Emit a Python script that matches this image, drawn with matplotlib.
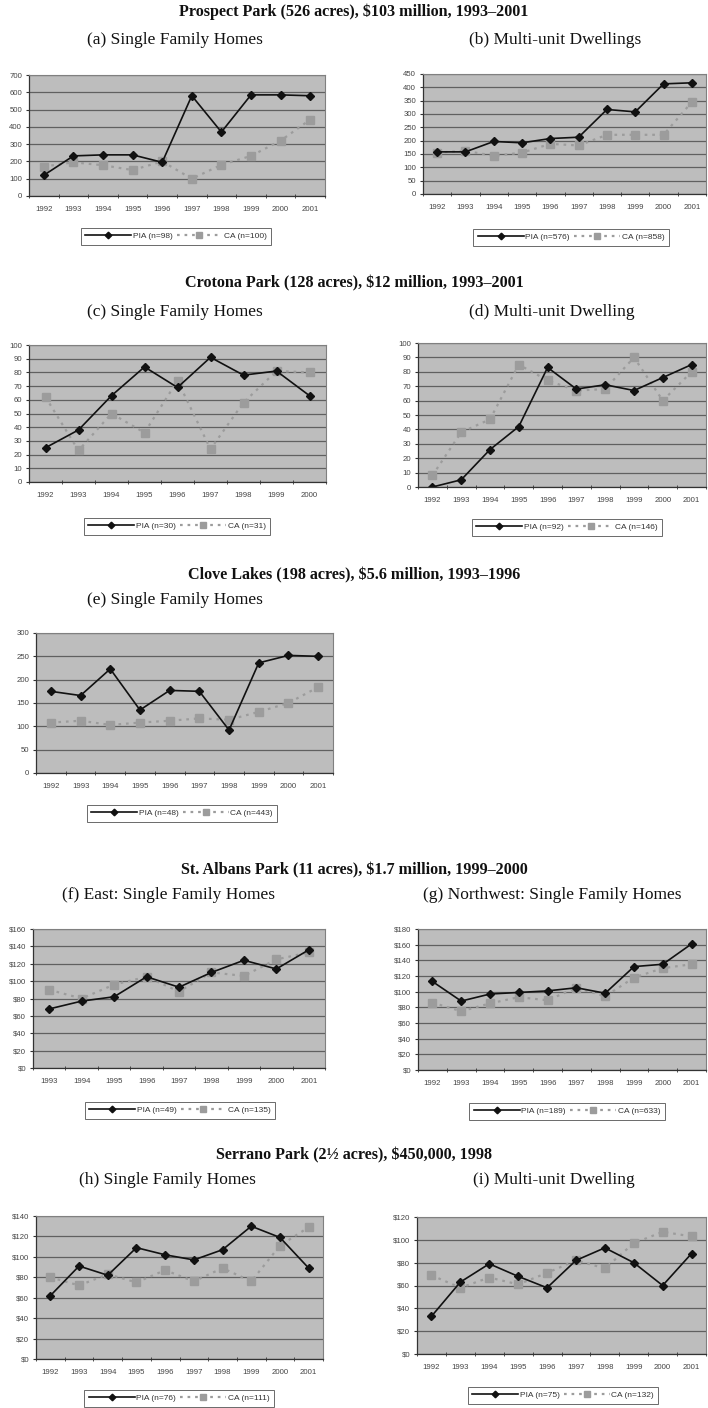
import numpy as np
import matplotlib.pyplot as plt

W, H = 708, 1408

# category labels
years_92_01 = ['1992', '1993', '1994', '1995', '1996', '1997', '1998', '1999', '2000', '2001']
years_92_00 = ['1992', '1993', '1994', '1995', '1996', '1997', '1998', '1999', '2000']
years_93_01 = ['1993', '1994', '1995', '1996', '1997', '1998', '1999', '2000', '2001']

# (a) Prospect Park, single family
prospect_sf_pia = [120, 232, 238, 238, 195, 580, 370, 585, 585, 580]
prospect_sf_ca = [170, 195, 178, 150, 200, 100, 180, 232, 320, 442]
# (b) Prospect Park, multi-unit
prospect_mu_pia = [158, 158, 197, 192, 208, 213, 317, 308, 413, 417]
prospect_mu_ca = [155, 162, 143, 155, 188, 182, 222, 222, 222, 345]
# (c) Crotona Park, single family
crotona_sf_pia = [25, 38, 63, 84, 69, 91, 78, 81, 63]
crotona_sf_ca = [62, 23, 50, 36, 74, 24, 58, 81, 80]
# (d) Crotona Park, multi-unit
crotona_mu_pia = [0, 5, 26, 42, 83, 68, 71, 67, 76, 85]
crotona_mu_ca = [8, 38, 47, 85, 74, 67, 68, 90, 60, 80]
# (e) Clove Lakes, single family
clove_sf_pia = [175, 166, 223, 135, 177, 175, 92, 236, 252, 250]
clove_sf_ca = [108, 112, 103, 108, 112, 117, 114, 131, 150, 184]
# (f) St. Albans east
albans_e_pia = [68, 77, 82, 105, 93, 110, 124, 114, 136]
albans_e_ca = [90, 80, 96, 105, 88, 110, 106, 125, 133]
# (g) St. Albans northwest
albans_nw_pia = [113, 88, 97, 99, 101, 105, 98, 132, 135, 161]
albans_nw_ca = [86, 75, 85, 93, 89, 105, 94, 118, 130, 135]
# (h) Serrano Park, single family
serrano_sf_pia = [62, 91, 82, 109, 102, 97, 107, 130, 119, 89]
serrano_sf_ca = [80, 72, 83, 75, 87, 76, 89, 76, 111, 129]
# (i) Serrano Park, multi-unit
serrano_mu_pia = [33, 63, 79, 68, 58, 82, 93, 80, 60, 88]
serrano_mu_ca = [69, 58, 67, 61, 71, 82, 75, 97, 107, 103]

serif = ['Liberation Serif', 'DejaVu Serif']
sans = ['Liberation Sans', 'DejaVu Sans']


def box(l, t, r, b):
    return [l / W, 1 - b / H, (r - l) / W, (b - t) / H]


def draw_panel(fig, rect, years, pia, ca, ymax, ystep, dollars, pia_lbl, ca_lbl, leg_xy):
    ax = fig.add_axes(box(*rect))
    x = np.arange(len(years))
    ax.set_facecolor('#bdbdbd')
    ax.set_axisbelow(True)
    ax.yaxis.grid(True, color='#606060', lw=0.9)
    l2, = ax.plot(x, ca, color='#9c9c9c', lw=1.6, ls=(0, (1.2, 2.2)), marker='s', ms=5.5,
                  markeredgecolor='#9c9c9c')
    l1, = ax.plot(x, pia, color='#111111', lw=1.2, marker='D', ms=4.2)
    ax.set_xlim(-0.5, len(years) - 0.5)
    ax.set_ylim(0, ymax)
    yt = np.arange(0, ymax + ystep / 2, ystep)
    ax.set_yticks(yt)
    if dollars:
        ax.set_yticklabels(['$%d' % v for v in yt])
    else:
        ax.set_yticklabels(['%d' % v for v in yt])
    ax.set_xticks(x)
    ax.set_xticklabels(years)
    ax.set_xticks(np.arange(len(years) + 1) - 0.5, minor=True)
    ax.tick_params(axis='x', which='major', length=0, pad=7)
    ax.tick_params(axis='x', which='minor', length=3, direction='inout', color='#333333')
    ax.tick_params(axis='y', length=2, direction='out', color='#333333', pad=3)
    for lab in ax.get_xticklabels() + ax.get_yticklabels():
        lab.set_fontsize(5.6)
        lab.set_family(sans)
        lab.set_color('#444444')
    for s in ['left', 'bottom']:
        ax.spines[s].set_color('#333333')
        ax.spines[s].set_linewidth(0.9)
    for s in ['top', 'right']:
        ax.spines[s].set_color('#808080')
        ax.spines[s].set_linewidth(0.8)
    leg = fig.legend([l1, l2], [pia_lbl, ca_lbl], loc='center',
                     bbox_to_anchor=(leg_xy[0] / W, 1 - leg_xy[1] / H), ncol=2,
                     prop={'family': sans, 'size': 6}, frameon=True, fancybox=False,
                     edgecolor='#444444', handlelength=5.5, columnspacing=0.5,
                     handletextpad=0.2, borderpad=0.55, markerscale=0.8)
    leg.get_frame().set_linewidth(0.7)
    for t in leg.get_texts():
        t.set_color('#333333')
    return ax


def title(fig, x, y, s, bold=False, size=12.5):
    fig.text(x / W, 1 - y / H, s, ha='center', va='center', family=serif,
             fontsize=size, fontweight='bold' if bold else 'normal', color='#111111')


fig = plt.figure(figsize=(W / 100, H / 100), dpi=100)

# Prospect Park
title(fig, 354, 12, 'Prospect Park (526 acres), $103 million, 1993\u20132001', bold=True, size=11.6)
title(fig, 175, 40, '(a) Single Family Homes')
title(fig, 555, 40, '(b) Multi-unit Dwellings')
draw_panel(fig, (29, 75, 325, 196), years_92_01, prospect_sf_pia, prospect_sf_ca, 700, 100,
           False, 'PIA (n=98)', 'CA (n=100)', (176, 236))
draw_panel(fig, (423, 74, 706, 194), years_92_01, prospect_mu_pia, prospect_mu_ca, 450, 50,
           False, 'PIA (n=576)', 'CA (n=858)', (571, 237))

# Crotona Park
title(fig, 354, 283, 'Crotona Park (128 acres), $12 million, 1993\u20132001', bold=True, size=11.6)
title(fig, 175, 312, '(c) Single Family Homes')
title(fig, 552, 312, '(d) Multi-unit Dwelling')
draw_panel(fig, (29, 345, 326, 482), years_92_00, crotona_sf_pia, crotona_sf_ca, 100, 10,
           False, 'PIA (n=30)', 'CA (n=31)', (177, 526))
draw_panel(fig, (418, 343, 706, 487), years_92_01, crotona_mu_pia, crotona_mu_ca, 100, 10,
           False, 'PIA (n=92)', 'CA (n=146)', (567, 527))

# Clove Lakes
title(fig, 354, 575, 'Clove Lakes (198 acres), $5.6 million, 1993\u20131996', bold=True, size=11.6)
title(fig, 175, 600, '(e) Single Family Homes')
draw_panel(fig, (36, 633, 333, 773), years_92_01, clove_sf_pia, clove_sf_ca, 300, 50,
           False, 'PIA (n=48)', 'CA (n=443)', (182, 813))

# St. Albans Park
title(fig, 354, 870, 'St. Albans Park (11 acres), $1.7 million, 1999\u20132000', bold=True, size=11.6)
title(fig, 168, 895, '(f) East: Single Family Homes')
title(fig, 552, 895, '(g) Northwest: Single Family Homes')
draw_panel(fig, (33, 929, 325, 1068), years_93_01, albans_e_pia, albans_e_ca, 160, 20,
           True, 'PIA (n=49)', 'CA (n=135)', (180, 1110))
draw_panel(fig, (418, 929, 706, 1070), years_92_01, albans_nw_pia, albans_nw_ca, 180, 20,
           True, 'PIA (n=189)', 'CA (n=633)', (567, 1111))

# Serrano Park
title(fig, 354, 1155, 'Serrano Park (2\u00bd acres), $450,000, 1998', bold=True, size=11.6)
title(fig, 167, 1180, '(h) Single Family Homes')
title(fig, 554, 1180, '(i) Multi-unit Dwelling')
draw_panel(fig, (36, 1216, 323, 1359), years_92_01, serrano_sf_pia, serrano_sf_ca, 140, 20,
           True, 'PIA (n=76)', 'CA (n=111)', (179, 1398))
draw_panel(fig, (417, 1217, 706, 1354), years_92_01, serrano_mu_pia, serrano_mu_ca, 120, 20,
           True, 'PIA (n=75)', 'CA (n=132)', (563, 1395))

fig.savefig('out.png', dpi=100, facecolor='white')
